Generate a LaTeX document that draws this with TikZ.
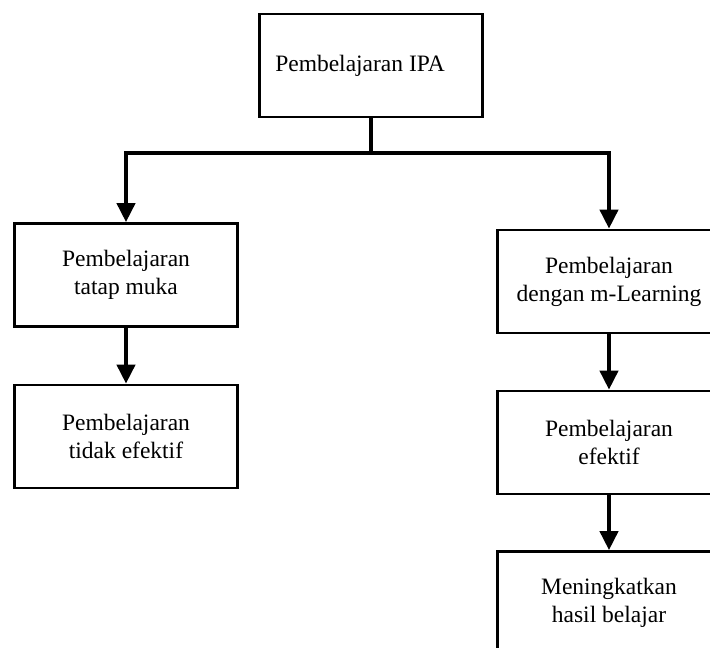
\documentclass[tikz,border=0pt]{standalone}
\usepackage{fontspec}
\setmainfont{Liberation Serif}
\usetikzlibrary{arrows.meta}

\begin{document}
\begin{tikzpicture}[x=1pt,y=-1pt,
    box/.style={draw, line width=2.7pt, rectangle, align=center,
      minimum width=223pt, minimum height=103pt, inner sep=0pt,
      font=\fontsize{23.5}{28}\selectfont},
    link/.style={line width=4pt},
    arr/.style={line width=4pt, -{Triangle[length=19pt,width=18pt]}}]
    \path[use as bounding box, clip] (0,0) rectangle (710,648);
    \node[box] at (371,65.5) (ipa) {Pembelajaran IPA\hspace{22pt}};
\node[box] at (126,275) (tatap) {Pembelajaran\\tatap muka};
\node[box] at (126,436.5) (tidak) {Pembelajaran\\tidak efektif};
\node[box] at (609,281.5) (mlearn) {Pembelajaran\\dengan m-Learning};
\node[box] at (609,442.5) (efektif) {Pembelajaran\\efektif};
\node[box] at (609,603) (hasil) {Meningkatkan\\hasil belajar};
\coordinate (bus) at (371,153);
\draw[link] (ipa.south) -- (bus);
\draw[arr] (bus) -| (tatap.north);
\draw[arr] (bus) -| (mlearn.north);
\draw[arr] (tatap) -- (tidak);
\draw[arr] (mlearn) -- (efektif);
\draw[arr] (efektif) -- (hasil);
  \end{tikzpicture}
\end{document}
